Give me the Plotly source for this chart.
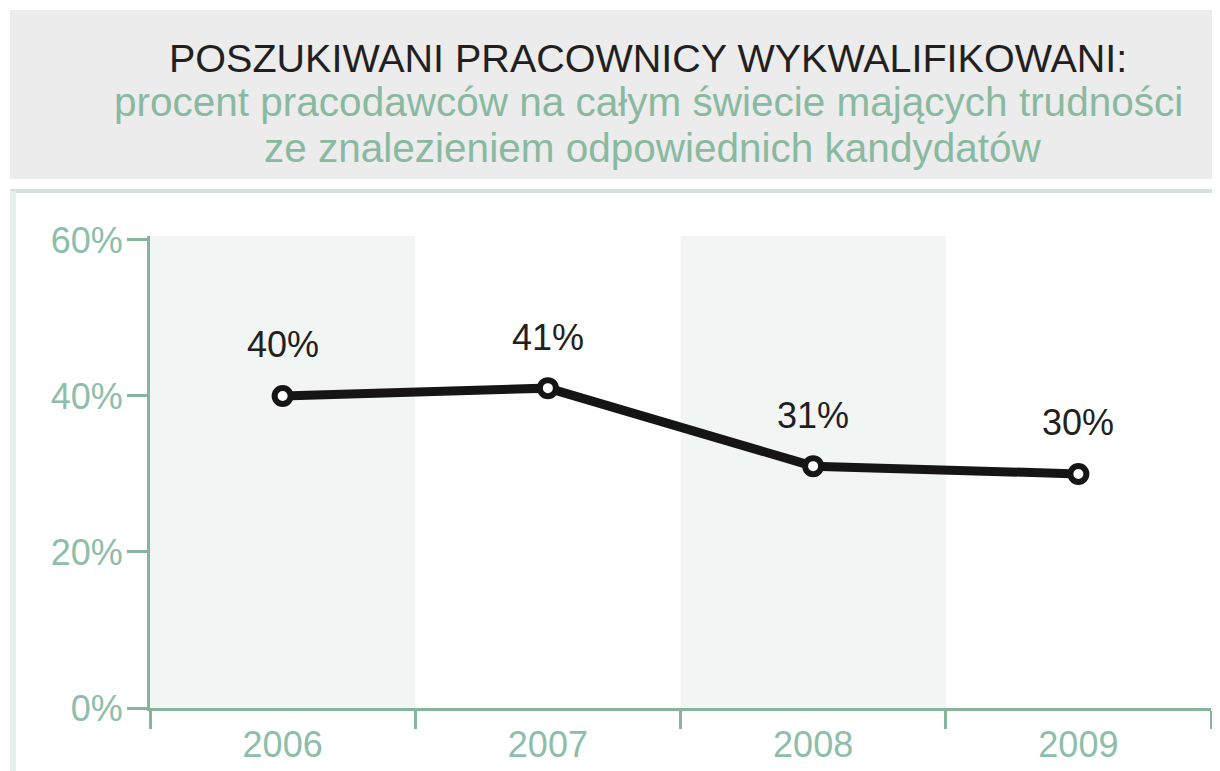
import plotly.graph_objects as go

years = ["2006", "2007", "2008", "2009"]
values = [40, 41, 31, 30]
y_ticks = [0, 20, 40, 60]
y_tick_labels = ["0%", "20%", "40%", "60%"]
shaded_years = ["2006", "2008"]

title_main = "POSZUKIWANI PRACOWNICY WYKWALIFIKOWANI:"
subtitle_1 = "procent pracodawców na całym świecie mających trudności"
subtitle_2 = "ze znalezieniem odpowiednich kandydatów"

GREEN = "#86b59c"
TICK_GREEN = "#8dbea9"
DARK = "#231f20"
FONT = "Liberation Sans, Arial, sans-serif"

W, H = 1220, 771
OFF = 8  # page body margin
# target page-pixel geometry of plot area
PL, PR, PT, PB = 150, 1211, 236, 708
L, T = PL - OFF, PT - OFF
R = W - (PR - OFF)
B = H - (PB - OFF)
PW, PH = W - L - R, H - T - B

def px(x):
    return (x - OFF - L) / PW

def py(y):
    return (H - B - (y - OFF)) / PH

fig = go.Figure()
fig.add_trace(go.Scatter(
    x=years, y=values, mode="lines+markers",
    line=dict(color="#151515", width=9),
    marker=dict(size=16, color="white", line=dict(color="#151515", width=6)),
    hoverinfo="skip", showlegend=False, cliponaxis=False,
))

shapes = []
for yr in shaded_years:
    i = years.index(yr)
    shapes.append(dict(type="rect", xref="x", yref="y", x0=i - 0.5, x1=i + 0.5,
                       y0=0, y1=60.5, fillcolor="#f1f5f3", line=dict(width=0), layer="below"))
# header box
shapes.append(dict(type="rect", xref="paper", yref="paper", x0=px(10), x1=px(1240),
                   y0=py(179), y1=py(10), fillcolor="#ebeceb", line=dict(width=0), layer="below"))
# green separator line
shapes.append(dict(type="line", xref="paper", yref="paper", x0=px(10), x1=px(1240),
                   y0=py(191), y1=py(191), line=dict(color="#d3e3da", width=4), layer="below"))
# left border
shapes.append(dict(type="line", xref="paper", yref="paper", x0=px(13), x1=px(13),
                   y0=py(191), y1=py(790), line=dict(color="#e6efea", width=6), layer="below"))

annotations = []
for i, v in enumerate(values):
    annotations.append(dict(x=i, y=v, xref="x", yref="y", text=f"{v}%", showarrow=False,
                            xanchor="center", yanchor="middle", yshift=51,
                            font=dict(family=FONT, size=36, color=DARK)))
annotations.append(dict(xref="paper", yref="paper", x=px(648), y=py(58), text=title_main,
                        showarrow=False, xanchor="center", yanchor="middle",
                        font=dict(family=FONT, size=39.5, color=DARK)))
annotations.append(dict(xref="paper", yref="paper", x=px(648), y=py(102), text=subtitle_1,
                        showarrow=False, xanchor="center", yanchor="middle",
                        font=dict(family=FONT, size=40.5, color="#8ab9a1")))
annotations.append(dict(xref="paper", yref="paper", x=px(652), y=py(148), text=subtitle_2,
                        showarrow=False, xanchor="center", yanchor="middle",
                        font=dict(family=FONT, size=40.5, color="#8ab9a1")))

fig.update_layout(
    width=W, height=H,
    margin=dict(l=L, r=R, t=T, b=B),
    paper_bgcolor="white", plot_bgcolor="white",
    shapes=shapes, annotations=annotations,
    xaxis=dict(type="category", categoryorder="array", categoryarray=years,
               range=[-0.5, 3.5], showgrid=False, zeroline=False,
               showline=True, linecolor=GREEN, linewidth=3,
               ticks="outside", tickson="boundaries", ticklen=18, tickwidth=3, tickcolor=GREEN,
               ticklabelstandoff=3,
               tickfont=dict(family=FONT, size=36, color=TICK_GREEN),
               fixedrange=True),
    yaxis=dict(range=[0, 60.5], tickvals=y_ticks, ticktext=y_tick_labels,
               showgrid=False, zeroline=False, showline=True, linecolor=GREEN, linewidth=3,
               ticks="outside", ticklen=20, tickwidth=3, tickcolor=GREEN,
               ticklabelstandoff=-3,
               tickfont=dict(family=FONT, size=36, color=TICK_GREEN),
               fixedrange=True),
)

fig.write_html("out.html")
